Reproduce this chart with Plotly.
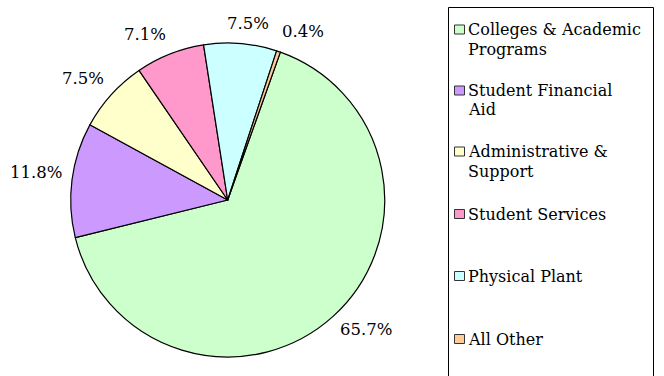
import math
import plotly.graph_objects as go

# Budget share by category (percent)
categories = [
    "Colleges & Academic Programs",
    "Student Financial Aid",
    "Administrative & Support",
    "Student Services",
    "Physical Plant",
    "All Other",
]
legend_lines = [
    ["Colleges & Academic", "Programs"],
    ["Student Financial", "Aid"],
    ["Administrative &", "Support"],
    ["Student Services"],
    ["Physical Plant"],
    ["All Other"],
]
shares = [65.7, 11.8, 7.5, 7.1, 7.5, 0.4]
colors = ["#CCFFCC", "#CC99FF", "#FFFFCC", "#FF99CC", "#CCFFFF", "#FFCC99"]

W, H = 664, 376
FONT = "DejaVu Serif"
FS = 16.5
LEGEND_FS = 16
ROTATION = 19.6

# pie placement (pixels)
cx, cy, r = 227.7, 200.0, 157.0

fig = go.Figure(
    go.Pie(
        labels=categories,
        values=shares,
        sort=False,
        direction="clockwise",
        rotation=ROTATION,
        marker=dict(colors=colors, line=dict(color="black", width=1.2)),
        textinfo="none",
        hoverinfo="label+percent",
        showlegend=False,
        domain=dict(
            x=[(cx - r) / W, (cx + r) / W],
            y=[(H - cy - r) / H, (H - cy + r) / H],
        ),
    )
)

# approximate DejaVu Serif advance widths (em/1000) for the label glyphs
ADV = {".": 318, "%": 950}


def text_width(s):
    return sum(ADV.get(ch, 636) for ch in s) * FS / 1000.0


annotations = []

# percentage labels just outside each slice, centred on the slice's mid angle
total = sum(shares)
start = ROTATION
gap, half_h, k, lift = 10.0, 8.0, 4.0, 2.0
for v in shares:
    sweep = 360.0 * v / total
    mid = math.radians(start + sweep / 2)
    start += sweep
    s, c = math.sin(mid), math.cos(mid)
    label = f"{v:.1f}%"
    half_w = text_width(label) / 2
    px = cx + (r + gap) * s + max(-1, min(1, k * s)) * half_w
    py = cy - (r + gap) * c + max(-1, min(1, -k * c)) * half_h - lift
    annotations.append(dict(
        text=label, xref="paper", yref="paper",
        x=px / W, y=(H - py) / H, xanchor="center", yanchor="middle",
        showarrow=False, font=dict(family=FONT, size=FS, color="black"),
    ))

# legend panel drawn with shapes and annotations
shapes = [
    dict(type="rect", xref="paper", yref="paper",
         x0=448.5 / W, x1=653.5 / W, y0=(H - 377) / H, y1=(H - 7.5) / H,
         line=dict(color="black", width=1), fillcolor="white", layer="below")
]
first_line_y = [29.5, 90.5, 151.5, 214, 276, 339]
line_gap = 19.5
for lines, col, y in zip(legend_lines, colors, first_line_y):
    shapes.append(dict(type="rect", xref="paper", yref="paper",
                       x0=454.5 / W, x1=464.5 / W,
                       y0=(H - y - 4.5) / H, y1=(H - y + 4.5) / H,
                       line=dict(color="#333333", width=1), fillcolor=col))
    for i, t in enumerate(lines):
        annotations.append(dict(
            text=t, xref="paper", yref="paper",
            x=466 / W, y=(H - y - i * line_gap) / H,
            xanchor="left", yanchor="middle", showarrow=False,
            font=dict(family=FONT, size=LEGEND_FS, color="black"),
        ))

fig.update_layout(
    width=W, height=H,
    margin=dict(l=0, r=0, t=0, b=0),
    paper_bgcolor="white",
    plot_bgcolor="white",
    shapes=shapes,
    annotations=annotations,
)

fig.write_html("out.html")
